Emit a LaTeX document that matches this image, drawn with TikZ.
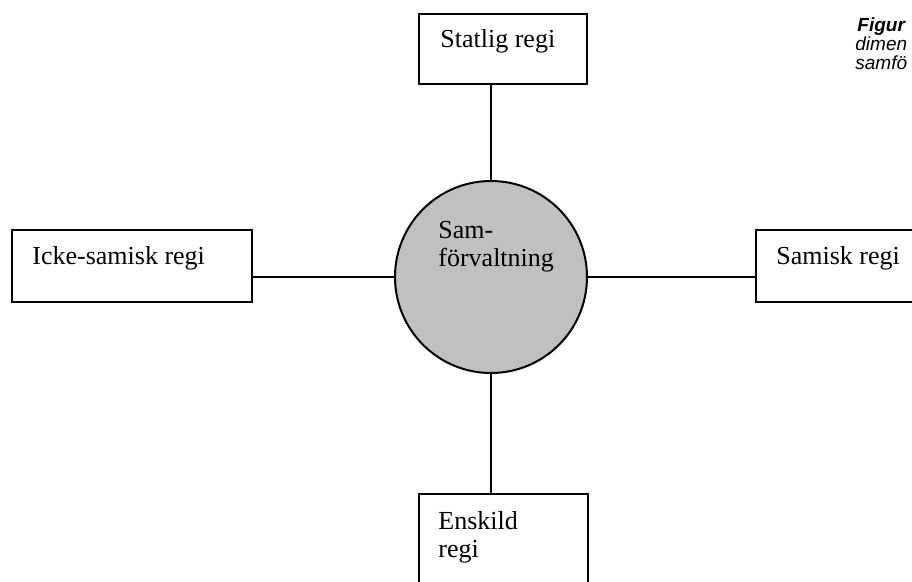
\documentclass[tikz,border=0pt]{standalone}
\usepackage{fontspec}
\setmainfont{Liberation Serif}
\newfontfamily\capfont{Liberation Sans}
\usetikzlibrary{calc}
\definecolor{circfill}{RGB}{192,192,192}
\tikzset{
  regbox/.style={draw=black, line width=1pt, rectangle, inner sep=0pt, anchor=north west, fill=white},
  regtext/.style={anchor=base west, inner sep=0pt, font=\fontsize{13}{14}\selectfont},
  conn/.style={draw=black, line width=1pt},
  captext/.style={anchor=base west, inner sep=0pt, font=\capfont\fontsize{9.5}{10}\selectfont\itshape}
}
\begin{document}
\begin{tikzpicture}[x=0.5pt, y=-0.5pt]
\useasboundingbox (0,0) rectangle (912,582);
\clip (0,0) rectangle (912,582);
% central circle
\node[circle, draw=black, line width=1pt, fill=circfill, minimum size=96pt, inner sep=0pt] (circ) at (491,277) {};
% boxes
\node[regbox, minimum width=84pt, minimum height=35pt] (stat) at (418,13) {};
\node[regbox, minimum width=120pt, minimum height=36pt] (icke) at (11,229) {};
\node[regbox, minimum width=90pt, minimum height=36pt] (sami) at (755,229) {};
\node[regbox, minimum width=84.5pt, minimum height=60pt] (ensk) at (418,493) {};
% connectors
\draw[conn] (circ.north) -- (circ.north |- stat.south);
\draw[conn] (circ.south) -- (circ.south |- ensk.north);
\draw[conn] (circ.west) -- (circ.west -| icke.east);
\draw[conn] (circ.east) -- (circ.east -| sami.west);
% texts
\node[regtext] (tstat) at (440,48) {Statlig regi};
\node[regtext] (ticke) at (32,265) {Icke-samisk regi};
\node[regtext] (tsami) at (776,265) {Samisk regi};
\node[regtext] (tensk1) at (438,530) {Enskild};
\node[regtext] (tensk2) at (438,558) {regi};
\node[regtext] (tsam1) at (438,239) {Sam-};
\node[regtext] (tsam2) at (438,267) {förvaltning};
% caption (cropped at the right edge)
\node[captext, font=\capfont\fontsize{9.5}{10}\selectfont\bfseries\itshape] (cap1) at (857,32) {Figur};
\node[captext] (cap2) at (855,51) {dimen};
\node[captext] (cap3) at (855,70) {samfö};
\end{tikzpicture}
\end{document}
